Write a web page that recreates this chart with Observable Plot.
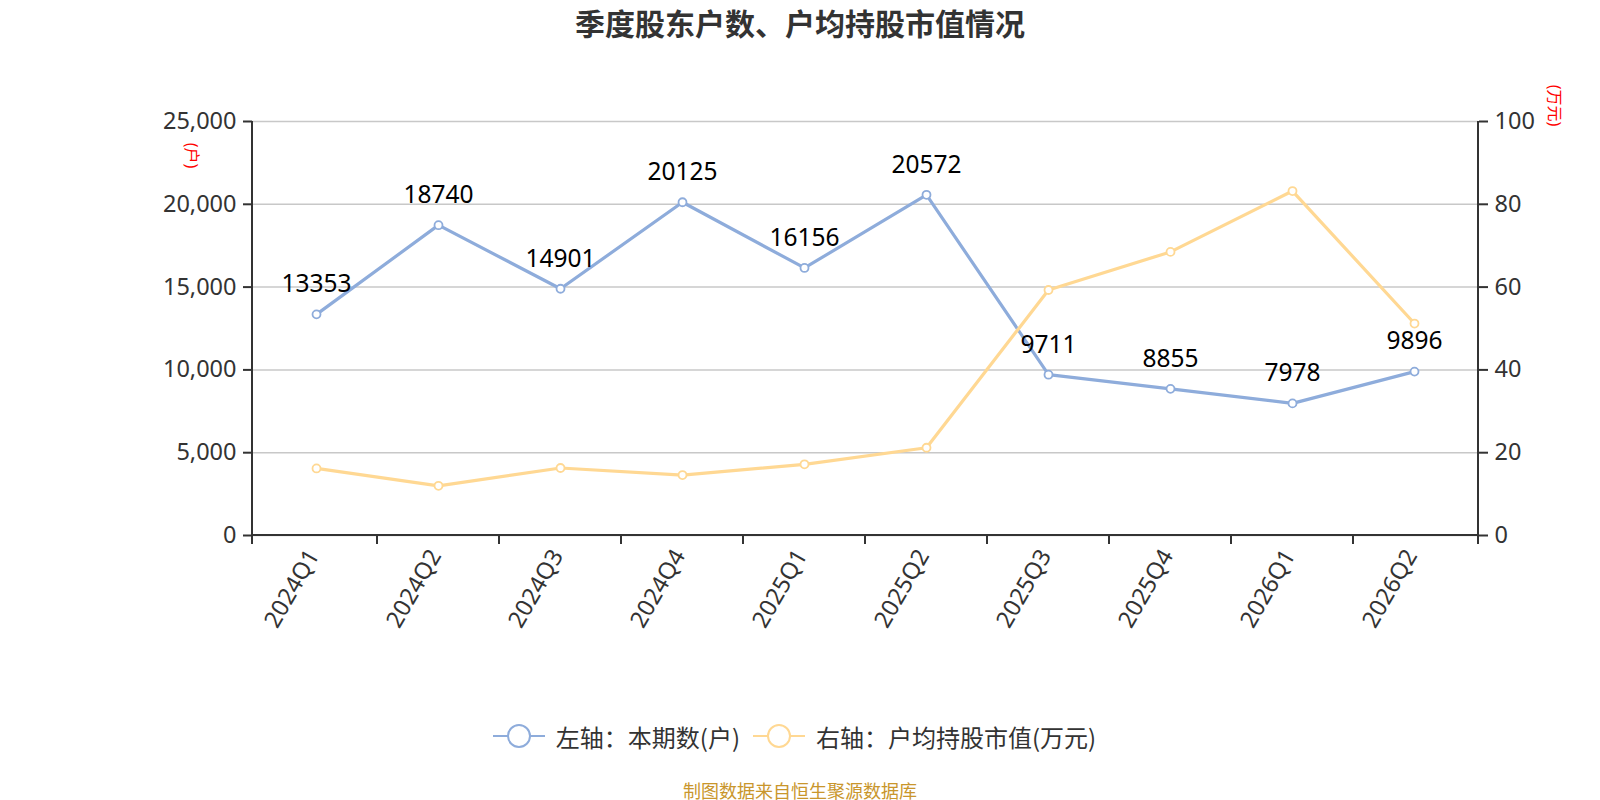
<!DOCTYPE html>
<html>
<head>
<meta charset="utf-8">
<script src="https://cdn.jsdelivr.net/npm/d3@7"></script>
<script src="https://cdn.jsdelivr.net/npm/@observablehq/plot@0.6"></script>
<style>
  html, body { margin:0; padding:0; background:#fff; }
  body { width:1600px; height:800px; position:relative; overflow:hidden;
         font-family:"Noto Sans","Noto Sans CJK SC",sans-serif; }
  #title { position:absolute; left:0; top:3px; width:1600px; text-align:center;
           font-size:30px; font-weight:bold; color:#333; line-height:38px;
           font-family:"Noto Sans CJK SC","Noto Sans",sans-serif; }
  #chart { position:absolute; left:0; top:50px; }
  #legend { position:absolute; left:0; top:721px; width:1588px; height:30px; display:flex;
            justify-content:center; align-items:center; gap:12px; color:#333;
            font-size:24px; font-family:"Noto Sans CJK SC","Noto Sans",sans-serif; }
  #legend .item { display:flex; align-items:center; gap:10px; }
  #caption { position:absolute; left:0; top:779px; width:1600px; text-align:center;
             font-size:18px; color:#c9962c; line-height:22px;
             font-family:"Noto Sans CJK SC","Noto Sans",sans-serif; }
</style>
</head>
<body>
<div id="title"></div>
<div id="chart"></div>
<div id="legend"></div>
<div id="caption"></div>
<script>
// ---- data ----
const titleText = "季度股东户数、户均持股市值情况";
const captionText = "制图数据来自恒生聚源数据库";
const categories = ["2024Q1","2024Q2","2024Q3","2024Q4","2025Q1","2025Q2","2025Q3","2025Q4","2026Q1","2026Q2"];
const holders = [13353,18740,14901,20125,16156,20572,9711,8855,7978,9896];
const avgValue = [16.2,12.0,16.3,14.6,17.2,21.2,59.3,68.5,83.2,51.2];
const leftTicks = [0,5000,10000,15000,20000,25000];
const rightTicks = [0,20,40,60,80,100];
const seriesNames = ["左轴：本期数(户)","右轴：户均持股市值(万元)"];
const leftUnit = "(户)";
const rightUnit = "(万元)";
const colors = ["#8eacdb","#ffd893"];

const leftMax = leftTicks[leftTicks.length-1];
const rightMax = rightTicks[rightTicks.length-1];
const ratio = leftMax / rightMax;

const rowsA = categories.map((c,i)=>({q:c, v:holders[i]}));
const rowsB = categories.map((c,i)=>({q:c, v:avgValue[i]*ratio, raw:avgValue[i]}));

document.getElementById("title").textContent = titleText;
document.getElementById("caption").textContent = captionText;

const font = "'Noto Sans','Noto Sans CJK SC',sans-serif";

const chart = Plot.plot({
  width:1600, height:640,
  marginTop:71, marginBottom:155, marginLeft:252, marginRight:122,
  style:{fontFamily:font, fontSize:"23.5px", color:"#333", background:"white"},
  x:{type:"band", domain:categories, padding:0},
  y:{domain:[0,leftMax]},
  marks:[
    Plot.gridY(leftTicks, {stroke:"#c8c8c8", strokeOpacity:1, strokeWidth:1.5}),
    Plot.axisY(leftTicks, {anchor:"left", tickSize:9, tickPadding:7, stroke:"#333", strokeWidth:2,
      tickFormat:d=>d.toLocaleString("en-US"), fontSize:23.5, fill:"#333", label:null}),
    Plot.axisY(leftTicks, {anchor:"right", tickSize:9, tickPadding:7, stroke:"#333", strokeWidth:2,
      tickFormat:d=>String(d/ratio), fontSize:23.5, fill:"#333", label:null}),
    Plot.axisX({tickSize:0, tickPadding:16, dx:-3, tickRotate:-60, fontSize:23.5, fill:"#333", label:null}),
    Plot.line(rowsA, {x:"q", y:"v", stroke:colors[0], strokeWidth:3.2}),
    Plot.dot(rowsA, {x:"q", y:"v", r:4, fill:"white", stroke:colors[0], strokeWidth:1.8}),
    Plot.line(rowsB, {x:"q", y:"v", stroke:colors[1], strokeWidth:3.2}),
    Plot.dot(rowsB, {x:"q", y:"v", r:4, fill:"white", stroke:colors[1], strokeWidth:1.8}),
    Plot.text(rowsA, {x:"q", y:"v", text:d=>String(d.v), dy:-30, fontSize:24.5, fill:"black"}),
    Plot.text([leftUnit], {frameAnchor:"top-left", text:d=>d, rotate:90, dx:-61, dy:34,
      textAnchor:"middle", lineAnchor:"middle", fill:"red", fontSize:16}),
    Plot.text([rightUnit], {frameAnchor:"top-right", text:d=>d, rotate:90, dx:76, dy:-16,
      textAnchor:"middle", lineAnchor:"middle", fill:"red", fontSize:16})
  ]
});

// axis lines and boundary ticks from the library's scales
const xs = chart.scale("x"), ys = chart.scale("y");
const [xl, xr] = xs.range;
const yb = ys.apply(0), yt = ys.apply(leftMax);
const tickLen = 9;
const g = d3.select(chart).append("g").attr("stroke","#333").attr("stroke-width",2);
g.append("line").attr("x1",xl).attr("x2",xl).attr("y1",yt).attr("y2",yb+tickLen);
g.append("line").attr("x1",xr).attr("x2",xr).attr("y1",yt).attr("y2",yb+tickLen);
g.append("line").attr("x1",xl).attr("x2",xr).attr("y1",yb).attr("y2",yb);
categories.slice(1).forEach(c=>{
  const x = xs.apply(c);
  g.append("line").attr("x1",x).attr("x2",x).attr("y1",yb).attr("y2",yb+tickLen);
});
// bring data layers above the axis lines
d3.select(chart).selectAll("g[aria-label='line'], g[aria-label='dot'], g[aria-label='text']").raise();

document.getElementById("chart").appendChild(chart);

// legend
const legend = d3.select("#legend");
seriesNames.forEach((name,i)=>{
  const item = legend.append("div").attr("class","item");
  const s = item.append("svg").attr("width",54).attr("height",28);
  s.append("line").attr("x1",1).attr("x2",53).attr("y1",14).attr("y2",14)
    .attr("stroke",colors[i]).attr("stroke-width",2);
  s.append("circle").attr("cx",27).attr("cy",14).attr("r",11)
    .attr("fill","white").attr("stroke",colors[i]).attr("stroke-width",2);
  item.append("span").text(name);
});
</script>
</body>
</html>
